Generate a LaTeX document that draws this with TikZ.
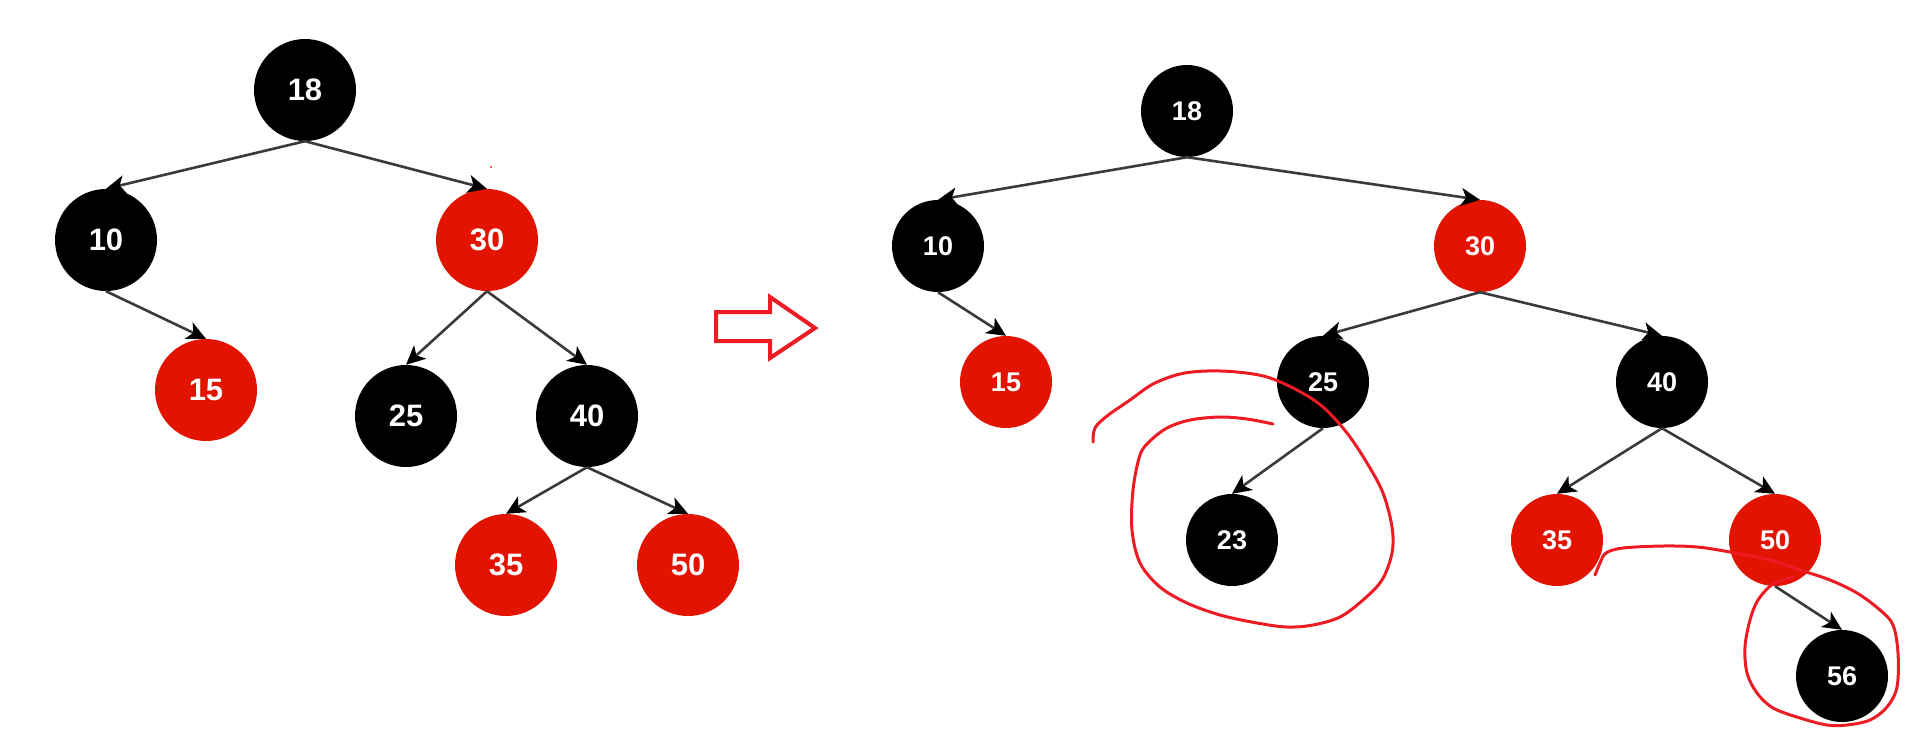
\documentclass[tikz,border=0pt]{standalone}
\usepackage{fontspec}
\setmainfont{Liberation Sans}
\usetikzlibrary{arrows.meta}
\definecolor{nodered}{RGB}{226,20,0}
\definecolor{penred}{RGB}{237,28,36}
\definecolor{edgegray}{RGB}{58,58,58}
\begin{document}
\begin{tikzpicture}[x=1pt,y=-1pt,
  bigb/.style={circle,fill=black,minimum size=102pt,inner sep=0pt,text=white,font=\fontsize{31}{31}\selectfont\bfseries},
  bigr/.style={bigb,fill=nodered},
  smb/.style={circle,fill=black,minimum size=92pt,inner sep=0pt,text=white,font=\fontsize{27}{27}\selectfont\bfseries},
  smr/.style={smb,fill=nodered},
  conn/.style={draw=edgegray,line width=2.6pt,-{Stealth[length=19pt,width=18pt,inset=5pt,color=black]}},
  pen/.style={draw=penred,line width=3pt,line cap=round,line join=round}]
\useasboundingbox (0,0) rectangle (1930,753);

% left tree
\node[bigb] (l18) at (305,90) {18};
\node[bigb] (l10) at (106,240) {10};
\node[bigr] (l30) at (487,240) {30};
\node[bigr] (l15) at (206,390) {15};
\node[bigb] (l25) at (406,416) {25};
\node[bigb] (l40) at (587,416) {40};
\node[bigr] (l35) at (506,565) {35};
\node[bigr] (l50) at (688,565) {50};
\draw[conn] (l18.south) -- (l10.north);
\draw[conn] (l18.south) -- (l30.north);
\draw[conn] (l10.south) -- (l15.north);
\draw[conn] (l30.south) -- (l25.north);
\draw[conn] (l30.south) -- (l40.north);
\draw[conn] (l40.south) -- (l35.north);
\draw[conn] (l40.south) -- (l50.north);

% stray red speck
\fill[penred] (491,167) circle (1.2pt);

% block arrow
\draw[draw=penred,line width=4pt,line join=miter]
  (716,312) -- (770,312) -- (770,297) -- (815,328) -- (770,358) -- (770,341) -- (716,341) -- cycle;

% right tree
\node[smb] (r18) at (1187,111) {18};
\node[smb] (r10) at (938,246) {10};
\node[smr] (r30) at (1480,246) {30};
\node[smr] (r15) at (1006,382) {15};
\node[smb] (r25) at (1323,382) {25};
\node[smb] (r40) at (1662,382) {40};
\node[smb] (r23) at (1232,540) {23};
\node[smr] (r35) at (1557,540) {35};
\node[smr] (r50) at (1775,540) {50};
\node[smb] (r56) at (1842,676) {56};
\draw[conn] (r18.south) -- (r10.north);
\draw[conn] (r18.south) -- (r30.north);
\draw[conn] (r10.south) -- (r15.north);
\draw[conn] (r30.south) -- (r25.north);
\draw[conn] (r30.south) -- (r40.north);
\draw[conn] (r25.south) -- (r23.north);
\draw[conn] (r40.south) -- (r35.north);
\draw[conn] (r40.south) -- (r50.north);
\draw[conn] (r50.south) -- (r56.north);

% hand-drawn red marks
\draw[pen] plot[smooth,tension=0.55] coordinates {
(1093,442) (1095,428) (1107,416) (1130,400) (1153,384) (1180,374) (1207,371) (1237,372) (1267,377) (1297,390) (1323,407) (1347,433) (1367,463) (1383,493) (1392,527) (1392,553) (1382,580) (1363,600) (1340,617) (1313,625) (1287,627) (1257,623) (1220,615) (1187,603) (1160,587) (1140,563) (1132,530) (1133,490) (1140,455) (1150,441) (1167,428) (1190,420) (1220,417) (1247,419) (1273,424)};
\draw[pen] plot[smooth,tension=0.55] coordinates {
(1595,575) (1600,563) (1606,553) (1623,548) (1663,546) (1697,547) (1730,552) (1770,560) (1800,570) (1830,580) (1857,593) (1880,610) (1893,625) (1898,653) (1897,687) (1887,707) (1870,720) (1847,725) (1827,725) (1800,718) (1773,708) (1757,693) (1747,673) (1745,647) (1750,620) (1758,600) (1773,584) (1793,577)};
\end{tikzpicture}
\end{document}
